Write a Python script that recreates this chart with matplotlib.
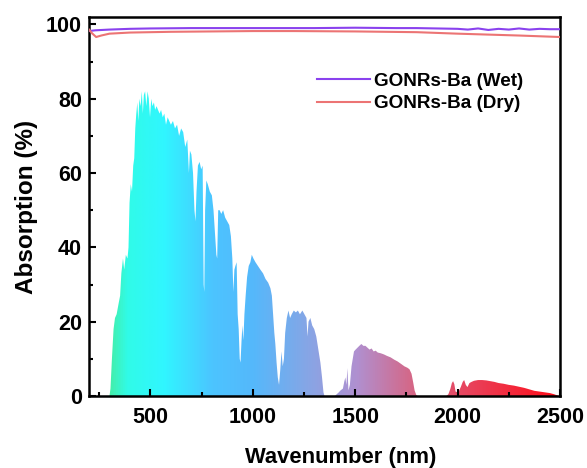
import numpy as np
import matplotlib
matplotlib.use('Agg')
import matplotlib.pyplot as plt
from matplotlib.colors import LinearSegmentedColormap
from matplotlib.ticker import MultipleLocator

plt.rcParams['font.family'] = ['Liberation Sans', 'DejaVu Sans']
plt.rcParams['font.weight'] = 'bold'

# solar spectrum (scaled to %)
sun_wl = [300, 305, 312, 320, 327, 335, 345, 352, 358, 366, 372, 380, 388, 393, 398,
          404, 410, 416, 421, 426, 431, 436, 441, 446, 452, 458, 463, 468, 474, 480,
          486, 492, 498, 504, 510, 517, 523, 530, 537, 545, 552, 560, 568, 576, 584,
          592, 600, 610, 620, 630, 640, 650, 660, 670, 680, 688, 693, 700, 708, 715,
          720, 725, 732, 740, 748, 755, 760, 763, 767, 773, 780, 790, 800, 808, 815,
          822, 826, 831, 838, 846, 855, 865, 875, 885, 893, 900, 905, 910, 915, 921,
          926, 931, 936, 940, 945, 949, 954, 959, 965, 972, 980, 988, 995, 1003, 1013,
          1025, 1037, 1050, 1062, 1075, 1086, 1093, 1099, 1105, 1110, 1116, 1122, 1128,
          1134, 1140, 1146, 1152, 1158, 1166, 1174, 1182, 1190, 1200, 1210, 1220, 1230,
          1242, 1252, 1262, 1267, 1272, 1281, 1290, 1300, 1310, 1320, 1330, 1338, 1345,
          1350, 1400, 1410, 1420, 1428, 1440, 1447, 1452, 1457, 1462, 1467, 1474, 1482,
          1488, 1494, 1502, 1511, 1520, 1530, 1540, 1550, 1560, 1570, 1580, 1590, 1600,
          1610, 1625, 1640, 1655, 1673, 1690, 1707, 1725, 1740, 1755, 1765, 1775, 1783,
          1790, 1798, 1805, 1945, 1955, 1965, 1972, 1978, 1984, 1990, 2000, 2008, 2016,
          2025, 2032, 2040, 2048, 2058, 2068, 2080, 2090, 2100, 2120, 2140, 2160, 2180,
          2200, 2225, 2250, 2275, 2300, 2325, 2350, 2375, 2400, 2425, 2450, 2470, 2485,
          2495]
sun_val = [0, 2, 10, 18, 21, 22, 25, 27, 33, 37, 34, 38, 37, 40, 52,
           57, 55, 62, 64, 72, 76, 79, 74, 80, 78, 82, 76, 81, 82, 78,
           82, 80, 75, 80, 78, 79, 77, 78, 77, 76, 77, 75, 76, 73, 75,
           74, 73, 74, 72, 73, 70, 72, 71, 67, 69, 60, 66, 65, 60, 50,
           47, 55, 62, 63, 61, 62, 30, 28, 50, 58, 57, 55, 54, 50, 44,
           38, 37, 50, 50, 49, 50, 48, 47, 46, 43, 37, 28, 34, 35, 36,
           22, 18, 10, 9, 15, 19, 15, 22, 27, 32, 35, 36, 38, 37, 36,
           35, 34, 33, 31.5, 30.5, 29, 27, 22, 17, 14, 9, 5, 3,
           7, 12, 8, 10, 17, 21, 23, 21, 22, 23, 22.5, 23, 22,
           23, 22, 21, 16, 20, 21, 19, 18, 16, 12.5, 9, 5, 1,
           0, 0, 0.5, 1, 1.5, 2, 4, 5, 3, 7.5, 1.5, 3, 8,
           10, 12, 12.5, 13, 13.5, 14, 13.5, 13.5, 13, 12.5, 12.8, 12, 12.2,
           11.7, 11.5, 11.2, 10.8, 10.4, 9.8, 9.3, 8.6, 8, 7.6, 7.2, 6, 3.7,
           1.5, 0.3, 0, 0, 0.5, 2, 3.5, 4, 3.2, 1.2, 1, 1.5, 2.5,
           3.8, 4.3, 3, 2.4, 3.5, 3.8, 4.1, 4.2, 4.3, 4.3, 4.2, 4, 3.8,
           3.5, 3.3, 3, 2.8, 2.5, 2.2, 1.8, 1.4, 1.2, 1, 0.8, 0.5, 0.2,
           0]

# absorption curves
wet_wl = [200, 230, 300, 400, 500, 700, 900, 1100, 1300, 1500, 1700, 1800, 1900,
          2000, 2050, 2100, 2150, 2200, 2250, 2300, 2350, 2400, 2450, 2500]
wet_val = [98.2, 98.4, 98.6, 98.8, 98.9, 99.0, 99.0, 99.0, 99.0, 99.1, 99.0, 99.0, 98.9,
           98.8, 98.6, 98.9, 98.5, 98.8, 98.6, 98.9, 98.6, 98.8, 98.7, 98.7]
dry_wl = [200, 215, 235, 260, 300, 400, 600, 800, 1000, 1200, 1500, 1800, 2000,
          2300, 2500]
dry_val = [98.6, 97.6, 96.6, 97.0, 97.5, 97.8, 98.0, 98.1, 98.2, 98.2, 98.1, 97.9, 97.5,
           97.0, 96.6]

fig = plt.figure(figsize=(5.87, 4.68), dpi=100)
ax = fig.add_axes([0.1516, 0.1538, 0.8024, 0.81])

grad_cmap = LinearSegmentedColormap.from_list('sun', [
    (0.0, '#45eea8'), (0.04, '#30fbe8'), (0.12, '#30f6ff'), (0.23, '#4cc4ff'),
    (0.32, '#55b8fb'), (0.45, '#8aa4e4'), (0.55, '#b090d0'), (0.67, '#d46888'),
    (0.78, '#e64862'), (1.0, '#ff0c18')])

fill = ax.fill_between(sun_wl, 0, sun_val, facecolor='none', edgecolor='none')
grad = np.linspace(0, 1, 512).reshape(1, -1)
im = ax.imshow(grad, extent=[300, 2500, 0, 90], aspect='auto', cmap=grad_cmap,
               origin='lower', zorder=1)
im.set_clip_path(fill.get_paths()[0], transform=ax.transData)

ax.plot(wet_wl, wet_val, color='#8a42ee', lw=1.5, label='GONRs-Ba (Wet)', zorder=3)
ax.plot(dry_wl, dry_val, color='#ec7474', lw=1.5, label='GONRs-Ba (Dry)', zorder=3)

ax.set_xlim(200, 2500)
ax.set_ylim(0, 102)
ax.xaxis.set_major_locator(MultipleLocator(500))
ax.xaxis.set_minor_locator(MultipleLocator(250))
ax.yaxis.set_major_locator(MultipleLocator(20))
ax.yaxis.set_minor_locator(MultipleLocator(10))
ax.tick_params(which='both', direction='in', top=False, right=False, width=1.5,
               labelsize=15.5)
ax.tick_params(which='major', length=5)
ax.tick_params(axis='x', which='major', pad=8)
ax.tick_params(axis='y', which='major', pad=5)
ax.tick_params(which='minor', length=3)
for sp in ax.spines.values():
    sp.set_linewidth(1.8)

ax.set_xlabel('Wavenumber (nm)', fontsize=15.8, fontweight='bold', labelpad=14)
ax.xaxis.set_label_coords(0.535, -0.135)
ax.set_ylabel('Absorption (%)', fontsize=17.5, fontweight='bold', labelpad=6)

ax.legend(loc='upper left', bbox_to_anchor=(0.484, 0.853), frameon=False,
          borderpad=0, borderaxespad=0, handlelength=2.8, handletextpad=0.2,
          labelspacing=0.27, prop={'size': 13.6, 'weight': 'bold'})

fig.savefig('out.png', dpi=100)
